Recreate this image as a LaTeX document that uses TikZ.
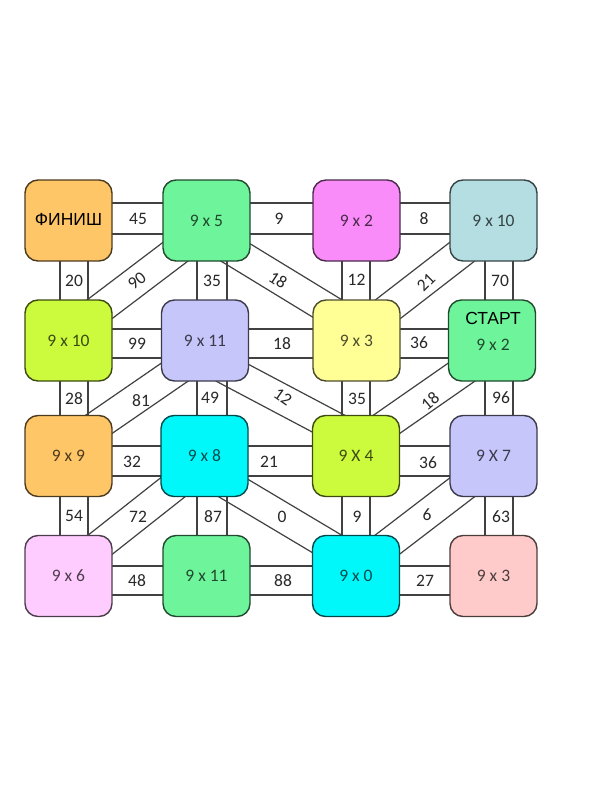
\documentclass[tikz,border=0pt]{standalone}
\usepackage{fontspec}
\setmainfont{Carlito}
\newfontfamily\arialf{Liberation Sans}
\usetikzlibrary{calc}
\pgfdeclarelayer{bg}
\pgfsetlayers{bg,main}
\definecolor{lineg}{RGB}{65,65,65}
\definecolor{numg}{RGB}{40,40,40}
\definecolor{cOrange}{RGB}{255,198,104}
\definecolor{cGreen}{RGB}{110,245,155}
\definecolor{cMagenta}{RGB}{250,140,250}
\definecolor{cBlueGray}{RGB}{180,222,226}
\definecolor{cLime}{RGB}{204,250,60}
\definecolor{cLav}{RGB}{198,198,250}
\definecolor{cYellow}{RGB}{255,255,150}
\definecolor{cCyan}{RGB}{0,248,250}
\definecolor{cPink}{RGB}{255,204,255}
\definecolor{cSalmon}{RGB}{255,202,202}
\begin{document}
\begin{tikzpicture}[x=1pt,y=-1pt,
  cell/.style={draw=#1!30!black, line width=1.4pt, rounded corners=13pt,
    minimum width=87pt, minimum height=81pt, inner sep=0pt,
    fill=#1, text=#1!30!black, font=\fontsize{17.5}{20}\selectfont},
  wall/.style={draw=lineg, line width=1.2pt},
  ext/.style={shorten <=-30pt, shorten >=-30pt},
  num/.style={text=numg, inner sep=0pt, font=\fontsize{17.5}{20}\selectfont},
  big/.style={text=black, inner sep=0pt, font=\arialf\fontsize{17.5}{20}\selectfont}]
\useasboundingbox (0,0) rectangle (600,800);

% cells
\node[cell=cOrange]   (r1c1) at (68.5,220.5) {};
\node[cell=cGreen]    (r1c2) at (206.5,220.5) {9 x 5};
\node[cell=cMagenta]  (r1c3) at (356.5,220.5) {9 x 2};
\node[cell=cBlueGray] (r1c4) at (493.5,220.5) {9 x 10};
\node[cell=cLime]     (r2c1) at (68.5,340.5) {9 x 10};
\node[cell=cLav]      (r2c2) at (205,340.5) {9 x 11};
\node[cell=cYellow]   (r2c3) at (356.5,340.5) {9 x 3};
\node[cell=cGreen]    (r2c4) at (492,340.5) {};
\node[cell=cOrange]   (r3c1) at (68.5,456) {9 x 9};
\node[cell=cCyan]     (r3c2) at (204.5,456) {9 x 8};
\node[cell=cLime]     (r3c3) at (356,456) {9 X 4};
\node[cell=cLav]      (r3c4) at (493.5,456) {9 X 7};
\node[cell=cPink]     (r4c1) at (68.5,576) {9 x 6};
\node[cell=cGreen]    (r4c2) at (206.5,576) {9 x 11};
\node[cell=cCyan]     (r4c3) at (356,576) {9 x 0};
\node[cell=cSalmon]   (r4c4) at (493.5,576) {9 x 3};
\node[big] (finish) at (68.5,219) {ФИНИШ};
\node[big] (start) at (493,318) {СТАРТ};
\node[num, text=cGreen!30!black] (startv) at (493,345) {9 x 2};

\begin{pgfonlayer}{bg}
\fill[white] (0,0) rectangle (600,800);
% horizontal corridors
\foreach \r/\ya/\yb in {1/203/234, 2/329/358, 3/446/476, 4/566/595}{
  \foreach \a/\b in {1/2, 2/3, 3/4}{
    \draw[wall] (r\r c\a.center |- 0,\ya) -- (r\r c\b.center |- 0,\ya);
    \draw[wall] (r\r c\a.center |- 0,\yb) -- (r\r c\b.center |- 0,\yb);
  }
}
% vertical corridors
\foreach \c/\xa/\xb in {1/60/88, 2/197/227, 3/342/370, 4/485/513}{
  \foreach \a/\b in {1/2, 2/3, 3/4}{
    \draw[wall] (\xa,0 |- r\a c\c.center) -- (\xa,0 |- r\b c\c.center);
    \draw[wall] (\xb,0 |- r\a c\c.center) -- (\xb,0 |- r\b c\c.center);
  }
}
% diagonal corridors (corner to corner)
\foreach \p/\q in {r2c1.north east/r1c2.south west,
                   r1c2.south east/r2c3.north west,
                   r2c3.north east/r1c4.south west,
                   r3c1.north east/r2c2.south west,
                   r2c2.south east/r3c3.north west,
                   r3c3.north east/r2c4.south west,
                   r4c1.north east/r3c2.south west,
                   r3c2.south east/r4c3.north west,
                   r4c3.north east/r3c4.south west}{
  \draw[wall, ext] ($(\p)!15pt!90:(\q)$) -- ($(\q)!15pt!-90:(\p)$);
  \draw[wall, ext] ($(\p)!15pt!-90:(\q)$) -- ($(\q)!15pt!90:(\p)$);
}
\end{pgfonlayer}

% numbers on horizontal corridors
\node[num] (h11) at (138,218.5) {45};
\node[num] (h12) at (279,218.5) {9};
\node[num] (h13) at (424,218.5) {8};
\node[num] (h21) at (137,343.5) {99};
\node[num] (h22) at (282,343.5) {18};
\node[num] (h23) at (419,342.5) {36};
\node[num] (h31) at (132,461.5) {32};
\node[num] (h32) at (269,461.5) {21};
\node[num] (h33) at (428,463) {36};
\node[num] (h41) at (137,580.5) {48};
\node[num] (h42) at (283,580.5) {88};
\node[num] (h43) at (425,580.5) {27};
% numbers on vertical corridors
\node[num] (v11) at (74,281) {20};
\node[num] (v12) at (212,281) {35};
\node[num] (v13) at (356.5,280) {12};
\node[num] (v14) at (500,281) {70};
\node[num] (v21) at (74,399) {28};
\node[num] (v22) at (210,398) {49};
\node[num] (v23) at (357,399) {35};
\node[num] (v24) at (501,398) {96};
\node[num] (v31) at (74,516) {54};
\node[num] (v32) at (213,517) {87};
\node[num] (v33) at (357,517) {9};
\node[num] (v34) at (501,517) {63};
% numbers on diagonal corridors
\node[num, rotate=38]  (d11) at (137,281) {90};
\node[num, rotate=-33] (d12) at (278,280) {18};
\node[num, rotate=45]  (d13) at (426,282) {21};
\node[num] (d21) at (141,401) {81};
\node[num, rotate=-35] (d22) at (283,397) {12};
\node[num, rotate=40]  (d23) at (430,401) {18};
\node[num] (d31) at (138,517) {72};
\node[num] (d32) at (282,517) {0};
\node[num] (d33) at (427,515) {6};
\end{tikzpicture}
\end{document}
